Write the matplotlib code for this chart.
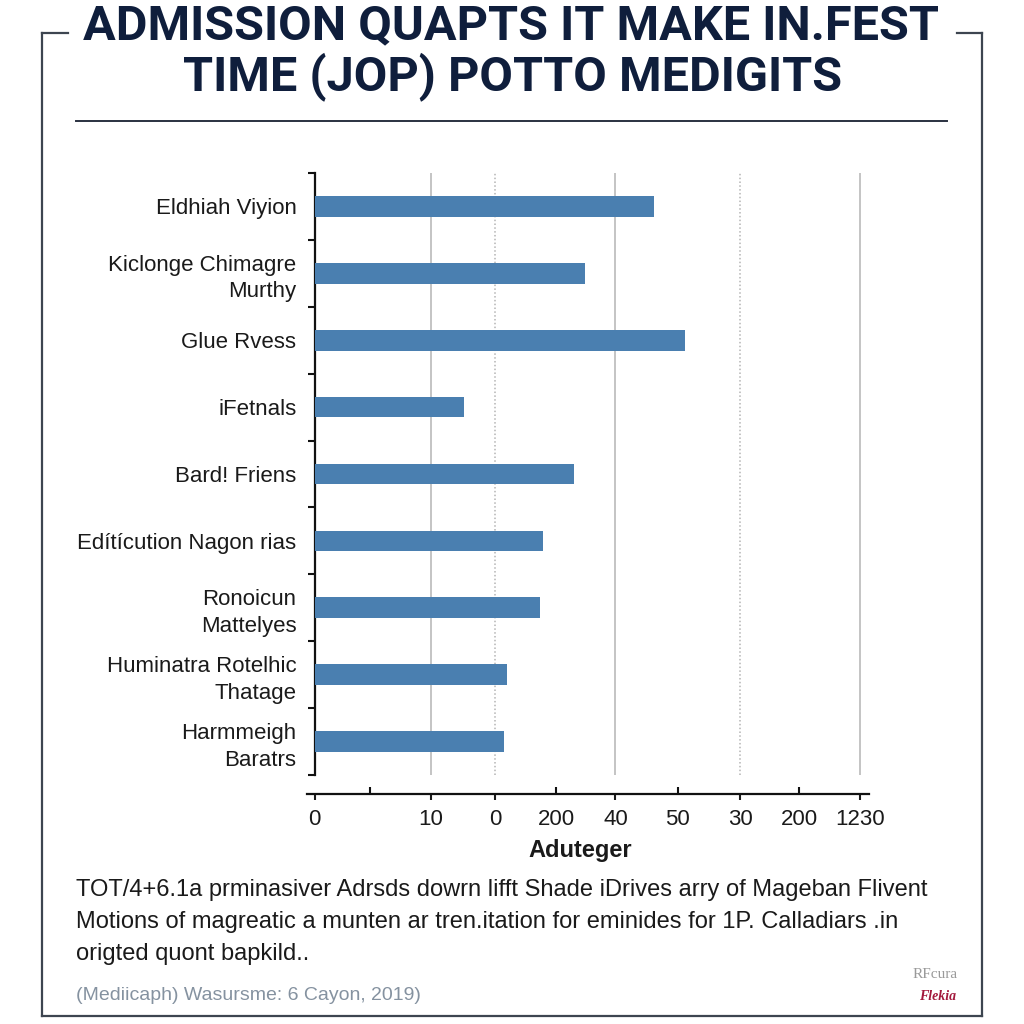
import matplotlib
matplotlib.use('Agg')
import matplotlib.pyplot as plt
from matplotlib.lines import Line2D
import numpy as np

plt.rcParams['font.family'] = ['Liberation Sans', 'DejaVu Sans']

# data
categories = ['Eldhiah Viyion', 'Kiclonge Chimagre\nMurthy', 'Glue Rvess', 'iFetnals',
              'Bard! Friens', 'Edítícution Nagon rias', 'Ronoicun\nMattelyes',
              'Huminatra Rotelhic\nThatage', 'Harmmeigh\nBaratrs']
values = [28.8, 22.9, 31.4, 12.7, 22.0, 19.4, 19.1, 16.3, 16.1]

tick_pos = [0, 9.87, 15.3, 20.5, 25.5, 30.8, 36.1, 41.1, 46.2]
tick_labels = ['0', '10', '0', '200', '40', '50', '30', '200', '1230']
tick_up = [False, False, False, True, False, True, False, True, False]
grid_style = [None, '-', ':', None, '-', None, ':', None, '-']
minor_pos = [4.7]

title = ['ADMISSION QUAPTS IT MAKE IN.FEST', 'TIME (JOP) POTTO MEDIGITS']
xlabel = 'Aduteger'
notes = ['TOT/4+6.1a prminasiver Adrsds dowrn lifft Shade iDrives arry of Mageban Flivent',
         'Motions of magreatic a munten ar tren.itation for eminides for 1P. Calladiars .in',
         'origted quont bapkild..']
source = '(Mediicaph) Wasursme: 6 Cayon, 2019)'

W = 1024.0


def fx(x):
    return x / W


def fy(y):
    return 1 - y / W


fig = plt.figure(figsize=(10.24, 10.24), dpi=100)
fig.patch.set_facecolor('white')

ax = fig.add_axes([fx(314.5), fy(775), (870 - 314.5) / W, (775 - 173) / W])
ypos = np.arange(len(categories))
ax.barh(ypos, values, height=0.31, color='#4a7fb0', zorder=3)
ax.set_ylim(len(categories) - 0.5, -0.5)
ax.set_xlim(0, 47.08)

ax.set_yticks(ypos, categories)
ax.set_yticks(np.arange(-0.5, len(categories)), minor=True)
ax.tick_params(axis='y', which='major', length=0, pad=13, labelsize=16, colors='#1a1a1a')
ax.tick_params(axis='y', which='minor', length=5, width=1.5, direction='out', color='#111111')
for lab in ax.get_yticklabels():
    lab.set_linespacing(1.35)

for s in ['top', 'right']:
    ax.spines[s].set_visible(False)
ax.spines['left'].set_linewidth(1.6)
ax.spines['left'].set_color('#111111')
ax.spines['bottom'].set_position(('outward', 13.7))
ax.spines['bottom'].set_bounds(-0.6, 47.0)
ax.spines['bottom'].set_linewidth(1.6)
ax.spines['bottom'].set_color('#111111')

ax.xaxis.remove_overlapping_locs = False
ax.set_xticks(tick_pos, tick_labels)
ax.set_xticks(minor_pos + [p for p, u in zip(tick_pos, tick_up) if u], minor=True)
ax.tick_params(axis='x', which='major', length=4.5, width=1.5, direction='out',
               labelsize=16, pad=6.5, colors='#1a1a1a')
ax.tick_params(axis='x', which='minor', length=5, width=1.5, direction='in', color='#111111')
for t, u in zip(ax.xaxis.get_major_ticks(), tick_up):
    if u:
        t.tick1line.set_visible(False)

for p, g in zip(tick_pos, grid_style):
    if g == '-':
        ax.axvline(p, color='#b4b4b4', lw=1.1, zorder=1)
    elif g == ':':
        ax.axvline(p, color='#b4b4b4', lw=1.1, ls=(0, (1, 1.5)), zorder=1)

fig.text(fx(580), fy(850), xlabel, ha='center', va='center', fontsize=17,
         fontweight='bold', color='#1a1a1a')

# title
title_font = ['Roboto', 'DejaVu Sans']
fig.text(fx(511), fy(26), title[0], ha='center', va='center', fontsize=35,
         fontweight='bold', color='#0f1e3c', family=title_font)
fig.text(fx(513), fy(77), title[1], ha='center', va='center', fontsize=35,
         fontweight='bold', color='#0f1e3c', family=title_font)

# frame and rule
fc = '#3d4550'
frame = [([42, 42], [33, 1016]), ([42, 982], [1016, 1016]), ([982, 982], [33, 1016]),
         ([42, 68], [33, 33]), ([957, 982], [33, 33])]
for xs, ys in frame:
    fig.add_artist(Line2D([fx(v) for v in xs], [fy(v) for v in ys], color=fc, lw=1.6))
fig.add_artist(Line2D([fx(76), fx(947)], [fy(121), fy(121)], color='#2a3140', lw=1.4))

# notes
for i, line in enumerate(notes):
    fig.text(fx(76), fy(890 + i * 32), line, ha='left', va='center', fontsize=17,
             color='#1a1a1a')
fig.text(fx(76), fy(995), source, ha='left', va='center', fontsize=14, color='#8592a0')

# logo
fig.text(fx(935), fy(975), 'RFcura', ha='center', va='center', fontsize=11,
         color='#9a9a9a', family=['Liberation Serif', 'DejaVu Serif'])
fig.text(fx(938), fy(996), 'Flekia', ha='center', va='center', fontsize=10,
         color='#a3183c', fontweight='bold', fontstyle='italic',
         family=['Liberation Serif', 'DejaVu Serif'])

fig.savefig('out.png', dpi=100)
